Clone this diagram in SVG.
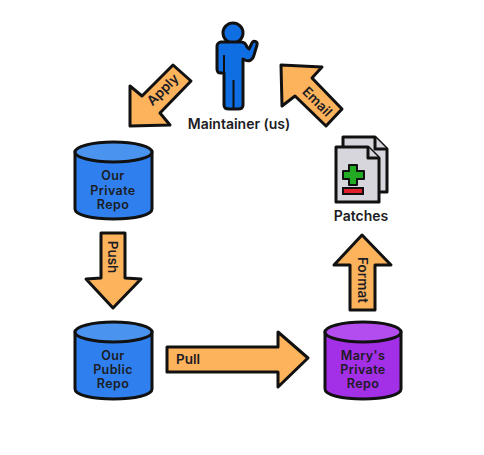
<svg xmlns="http://www.w3.org/2000/svg" width="484" height="455" viewBox="0 0 484 455">
<style>
text{font-family:"Inter","Liberation Sans",sans-serif;font-weight:600;fill:#1c1c24;text-anchor:middle}
.l{font-size:13.500px}
.c{font-size:12.500px;letter-spacing:.4px}
.m{font-size:14px}
.a{fill:#fcb35c;stroke:#111;stroke-width:3;stroke-linejoin:round}
.s{stroke:#111;stroke-width:3;stroke-linejoin:round}
.blue{fill:#2f80ee}.bluet{fill:#4a94f0}.person{fill:#0f6fe2}
.pur{fill:#a32fe6}.purt{fill:#b44df0}
.pg{fill:#d6d6dc;stroke:#111;stroke-width:3;stroke-linejoin:round}
</style>
<rect width="484" height="455" fill="#fff"/>
<g id="connectors">
<g id="apply"><polygon class="a" points="130,86 130,126 170,125 160,113 191,81 173,65 142,96"/><text class="l" transform="translate(166,93) rotate(-45)">Apply</text></g>
<g id="email"><polygon class="a" points="281,65 322,67 312,78 342,109 326,126 295,96 282,106"/><text class="l" transform="translate(314,105) rotate(45)">Email</text></g>
<g id="push"><polygon class="a" points="101,233 125,233 125,278 141,279 113,308 86,279 101,278"/><text class="l" transform="translate(108,257) rotate(90)">Push</text></g>
<g id="pull"><polygon class="a" points="167,347 278,347 278,332 308,358 278,387 278,372 167,372"/><text class="l" x="188" y="364">Pull</text></g>
<g id="format"><polygon class="a" points="362,235 391,265 375,265 375,310 350,310 350,265 334,265"/><text class="l" transform="translate(358,280) rotate(90)">Format</text></g>
</g>
<g id="maintainer">
<circle class="s person" cx="233" cy="33" r="10"/>
<path class="s person" d="M221,42H241C244,42 246,44 247,47L249,49L252,43C253,40 258,41 257,45L254,55C253,60 249,62 245,60L243,59V105C243,108 241,109 238,109H229C226,109 224,108 224,105V73H221C218,73 217,71 217,69V46C217,44 219,42 221,42Z"/>
<path d="M233.500,80V108M224,55V72" stroke="#111" stroke-width="2" fill="none"/>
<text class="m" x="239" y="129">Maintainer (us)</text>
</g>
<g id="our-private-repo">
<path class="s blue" d="M75,152V209C75,215 92,219 113.500,219S152,215 152,209V152Z"/>
<ellipse class="s bluet" cx="113.500" cy="152" rx="38.500" ry="10"/>
<text class="c" x="113" y="180">Our</text><text class="c" x="113" y="195">Private</text><text class="c" x="113" y="209">Repo</text>
</g>
<g id="our-public-repo">
<path class="s blue" d="M75,332V389C75,395 92,399 113.500,399S152,395 152,389V332Z"/>
<ellipse class="s bluet" cx="113.500" cy="332" rx="38.500" ry="10"/>
<text class="c" x="113" y="360">Our</text><text class="c" x="113" y="374">Public</text><text class="c" x="113" y="388">Repo</text>
</g>
<g id="marys-private-repo">
<path class="s pur" d="M325,332V389C325,395 342,399 363,399S401,395 401,389V332Z"/>
<ellipse class="s purt" cx="363" cy="332" rx="38" ry="10"/>
<text class="c" x="363" y="360">Mary's</text><text class="c" x="363" y="374">Private</text><text class="c" x="363" y="388">Repo</text>
</g>
<g id="patches">
<path class="pg" d="M343,137H375L387,149V192H343Z"/>
<path class="pg" d="M375,137V149H387" />
<path class="pg" d="M336,147H368L379,158V202H336Z"/>
<path class="pg" d="M368,147V158H379"/>
<path d="M349,165H357V171H364V179H357V185H349V179H343V171H349Z" fill="#22aa22" stroke="#111" stroke-width="2" stroke-linejoin="round"/>
<rect x="343" y="188" width="20" height="6" fill="#e0202a" stroke="#111" stroke-width="2"/>
<text class="m" x="361" y="221">Patches</text>
</g>
</svg>
